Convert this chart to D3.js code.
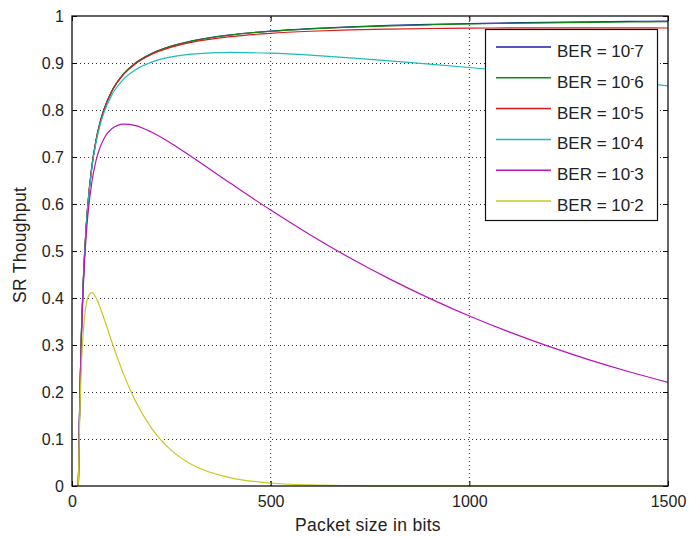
<!DOCTYPE html>
<html>
<head>
<meta charset="utf-8">
<script src="https://cdn.jsdelivr.net/npm/d3@7"></script>
<style>
  body { margin: 0; background: #fff; }
  text { font-family: "Liberation Sans", Arial, sans-serif; fill: #222; }
</style>
</head>
<body>
<svg id="chart" width="689" height="537"></svg>
<script>
const width = 689;
const height = 537;

// packet size (bits)
const packetSize = [16, 18, 20, 24, 28, 32, 36, 40, 50, 60, 70, 80, 100, 130, 160, 200, 250, 300, 400, 500, 600, 700, 800, 900, 1000, 1100, 1200, 1300, 1400, 1500];

const ber7 = [0, 0.1111, 0.2, 0.3333, 0.4286, 0.5, 0.5556, 0.6, 0.68, 0.7333, 0.7714, 0.8, 0.84, 0.8769, 0.9, 0.92, 0.936, 0.9467, 0.96, 0.968, 0.9733, 0.9770, 0.9799, 0.9821, 0.9839, 0.9854, 0.9866, 0.9876, 0.9885, 0.9892];
const ber6 = [0, 0.1111, 0.2, 0.3333, 0.4286, 0.5, 0.5556, 0.6, 0.68, 0.7333, 0.7714, 0.7999, 0.8399, 0.8768, 0.8999, 0.9198, 0.9358, 0.9464, 0.9596, 0.9675, 0.9727, 0.9764, 0.9792, 0.9813, 0.983, 0.9844, 0.9855, 0.9864, 0.9872, 0.9878];
const ber5 = [0, 0.1111, 0.2, 0.3333, 0.4285, 0.4998, 0.5555, 0.5998, 0.6797, 0.7329, 0.7709, 0.7994, 0.8392, 0.8758, 0.8986, 0.9182, 0.9337, 0.9439, 0.9562, 0.9632, 0.9675, 0.9703, 0.9722, 0.9734, 0.9742, 0.9747, 0.9749, 0.9749, 0.9748, 0.9745];
const ber4 = [0, 0.1109, 0.1996, 0.3325, 0.4274, 0.4984, 0.5536, 0.5976, 0.6766, 0.7289, 0.766, 0.7936, 0.8316, 0.8656, 0.8857, 0.9018, 0.9129, 0.9187, 0.9224, 0.9208, 0.9167, 0.9111, 0.9046, 0.8977, 0.8904, 0.8828, 0.8751, 0.8673, 0.8595, 0.8515];
const ber3 = [0, 0.1091, 0.196, 0.3254, 0.4168, 0.4843, 0.5359, 0.5765, 0.6468, 0.6906, 0.7192, 0.7385, 0.76, 0.77, 0.7669, 0.7531, 0.7288, 0.7012, 0.6434, 0.587, 0.534, 0.485, 0.4401, 0.3992, 0.3618, 0.3279, 0.297, 0.269, 0.2436, 0.2206];
const ber2 = [0, 0.0927, 0.1636, 0.2619, 0.3235, 0.3625, 0.3869, 0.4014, 0.4114, 0.4013, 0.3818, 0.358, 0.3074, 0.2375, 0.1803, 0.1233, 0.0759, 0.0464, 0.0173, 0.0064, 0.0023, 0.0009, 0.0003, 0.0001, 0, 0, 0, 0, 0, 0];

const seriesNames = ["7", "6", "5", "4", "3", "2"];
const seriesValues = [ber7, ber6, ber5, ber4, ber3, ber2];
const seriesColors = ["#1c1ca8", "#108a10", "#e01818", "#1cbcbc", "#b814b8", "#c8c820"];

const xTicks = [0, 500, 1000, 1500];
const yTicks = [0, 0.1, 0.2, 0.3, 0.4, 0.5, 0.6, 0.7, 0.8, 0.9, 1];

const margin = { left: 72, right: 21, top: 16, bottom: 51 };
const svg = d3.select("#chart");

const x = d3.scaleLinear().domain([0, 1500]).range([margin.left, width - margin.right]);
const y = d3.scaleLinear().domain([0, 1]).range([height - margin.bottom, margin.top]);

// grid
svg.append("g")
    .selectAll("line.gx")
    .data(xTicks.slice(1, -1))
    .enter()
    .append("line")
    .attr("x1", d => x(d)).attr("x2", d => x(d))
    .attr("y1", y(0)).attr("y2", y(1))
    .attr("stroke", "#333").attr("stroke-width", 1)
    .attr("stroke-dasharray", "1,3");

svg.append("g")
    .selectAll("line.gy")
    .data(yTicks.slice(1, -1))
    .enter()
    .append("line")
    .attr("x1", x(0)).attr("x2", x(1500))
    .attr("y1", d => Math.round(y(d)) + 0.5).attr("y2", d => Math.round(y(d)) + 0.5)
    .attr("stroke", "#333").attr("stroke-width", 1)
    .attr("stroke-dasharray", "1,3");

// lines
const line = d3.line()
    .x((d, i) => x(packetSize[i]))
    .y(d => y(d))
    .curve(d3.curveMonotoneX);

svg.append("g")
    .selectAll("path")
    .data(seriesValues)
    .enter()
    .append("path")
    .attr("d", line)
    .attr("fill", "none")
    .attr("stroke", (d, i) => seriesColors[i])
    .attr("stroke-width", 1.2);

// axes (MATLAB style: ticks inside, on all four sides)
const tickLen = 5;
svg.append("g")
    .attr("transform", `translate(0,${y(0)})`)
    .call(d3.axisBottom(x).tickValues(xTicks).tickSize(-tickLen).tickPadding(10).tickFormat(d3.format("d")))
    .call(g => g.select(".domain").remove())
    .call(g => g.selectAll("text").attr("font-size", 16).attr("fill", "#222"));
svg.append("g")
    .attr("transform", `translate(0,${y(1)})`)
    .call(d3.axisTop(x).tickValues(xTicks).tickSize(-tickLen).tickFormat(""))
    .call(g => g.select(".domain").remove());
svg.append("g")
    .attr("transform", `translate(${x(0)},0)`)
    .call(d3.axisLeft(y).tickValues(yTicks).tickSize(-tickLen).tickPadding(8).tickFormat(d => d === 0 || d === 1 ? d3.format("d")(d) : d3.format(".1f")(d)))
    .call(g => g.select(".domain").remove())
    .call(g => g.selectAll("text").attr("font-size", 16).attr("fill", "#222"));
svg.append("g")
    .attr("transform", `translate(${x(1500)},0)`)
    .call(d3.axisRight(y).tickValues(yTicks).tickSize(-tickLen).tickFormat(""))
    .call(g => g.select(".domain").remove());

svg.append("rect")
    .attr("x", x(0)).attr("y", y(1))
    .attr("width", x(1500) - x(0)).attr("height", y(0) - y(1))
    .attr("fill", "none").attr("stroke", "#111").attr("stroke-width", 1.3);

// axis labels
svg.append("text")
    .attr("x", 368).attr("y", 531)
    .attr("text-anchor", "middle")
    .attr("font-size", 17.5)
    .attr("letter-spacing", 0.3)
    .text("Packet size in bits");

svg.append("text")
    .attr("transform", "translate(26,245) rotate(-90)")
    .attr("text-anchor", "middle")
    .attr("font-size", 17.5)
    .attr("letter-spacing", 0.3)
    .text("SR Thoughput");

// legend
const legend = svg.append("g");
legend.append("rect")
    .attr("x", 485.5).attr("y", 29.5)
    .attr("width", 172).attr("height", 191)
    .attr("fill", "#fff").attr("stroke", "#111").attr("stroke-width", 1.2);

const rows = legend.selectAll("g.row")
    .data(seriesNames)
    .enter()
    .append("g")
    .attr("transform", (d, i) => `translate(0,${47 + i * 30.8})`);

rows.append("line")
    .attr("x1", 496).attr("x2", 551)
    .attr("y1", 0).attr("y2", 0)
    .attr("stroke", (d, i) => seriesColors[i])
    .attr("stroke-width", 1.5);

const lt = rows.append("text")
    .attr("x", 557).attr("y", 10)
    .attr("font-size", 17);
lt.append("tspan").text("BER = 10");
lt.append("tspan").attr("dy", -5).attr("font-size", 12).text("-");
lt.append("tspan").attr("dy", 5).text(d => d);
</script>
</body>
</html>
